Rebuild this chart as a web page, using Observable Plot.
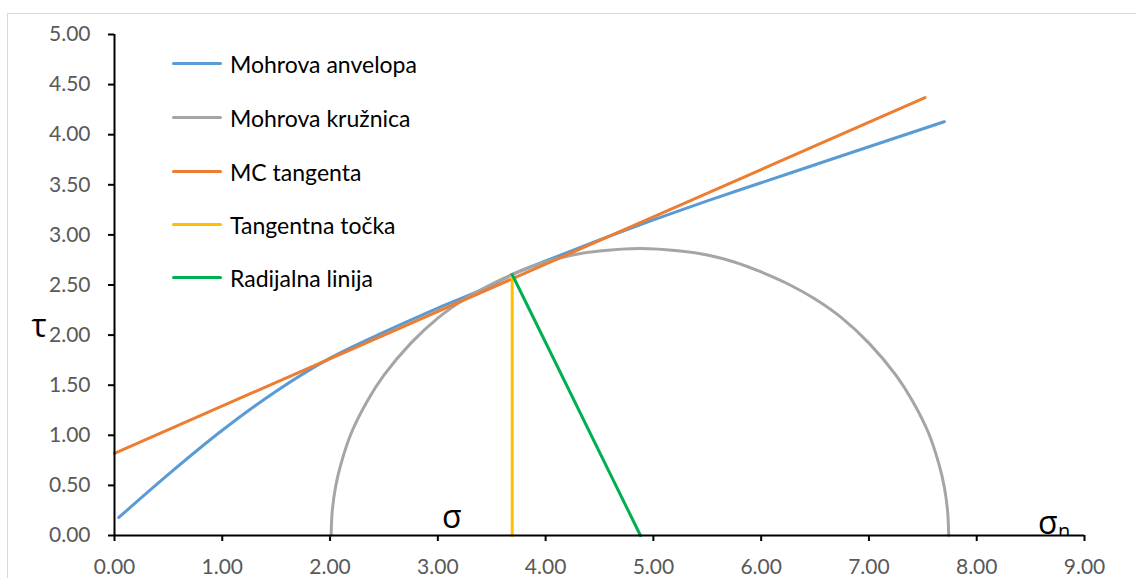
<!DOCTYPE html>
<html>
<head>
<meta charset="utf-8">
<script src="https://cdn.jsdelivr.net/npm/d3@7"></script>
<script src="https://cdn.jsdelivr.net/npm/@observablehq/plot@0.6"></script>
<style>
  html, body { margin: 0; padding: 0; background: #fff; overflow: hidden; }
  #wrap { position: relative; width: 1136px; height: 578px; }
  #border { position: absolute; left: 7px; top: 13px; width: 1300px; height: 700px; border: 1.5px solid #d9d9d9; pointer-events: none; }
  #legend { position: absolute; left: 172px; top: 0; font-family: Lato, sans-serif; font-size: 23px; color: #000; }
  .row { position: absolute; left: 0; white-space: nowrap; display: flex; align-items: center; height: 30px; }
  .sw { display: inline-block; width: 50px; height: 3px; border-radius: 2px; margin-right: 8px; }
</style>
</head>
<body>
<div id="wrap"><div id="border"></div></div>
<script>
// Ticks
const xTicks = [0, 1, 2, 3, 4, 5, 6, 7, 8, 9];
const yTicks = [0, 0.5, 1, 1.5, 2, 2.5, 3, 3.5, 4, 4.5, 5];

// Series names / colours
const seriesNames = ["Mohrova anvelopa", "Mohrova kružnica", "MC tangenta", "Tangentna točka", "Radijalna linija"];
const seriesColors = ["#5B9BD5", "#A5A5A5", "#ED7D31", "#FFC000", "#00B050"];

// Mohrova anvelopa
const envX = [0.04, 0.5, 1.0, 1.5, 2.0, 2.5, 3.0, 3.5, 3.69, 4.0, 4.5, 5.0, 5.5, 6.0, 6.5, 7.0, 7.7];
const envY = [0.18, 0.61, 1.05, 1.44, 1.77, 2.03, 2.27, 2.50, 2.605, 2.74, 2.95, 3.15, 3.34, 3.52, 3.70, 3.88, 4.13];

// Mohrova kružnica
const circX = [2.01, 2.02, 2.05, 2.10, 2.20, 2.35, 2.50, 2.75, 3.00, 3.25, 3.50, 3.75, 4.00, 4.25, 4.50, 4.875, 5.25, 5.50, 5.75, 6.00, 6.25, 6.50, 6.75, 7.00, 7.25, 7.40, 7.55, 7.65, 7.70, 7.73, 7.74];
const circY = [0, 0.24, 0.48, 0.71, 1.03, 1.35, 1.60, 1.92, 2.17, 2.36, 2.51, 2.63, 2.73, 2.80, 2.84, 2.865, 2.84, 2.80, 2.73, 2.63, 2.51, 2.36, 2.17, 1.92, 1.60, 1.35, 1.03, 0.71, 0.48, 0.24, 0];

// MC tangenta
const tanX = [0, 7.52];
const tanY = [0.82, 4.37];

// Tangentna točka
const ptX = [3.69, 3.69];
const ptY = [0, 2.605];

// Radijalna linija
const radX = [3.69, 4.88];
const radY = [2.605, 0];

// Annotations
const annoText = ["τ", "σ", "σ"];
const annoX = [-0.70, 3.13, 8.66];
const annoY = [2.08, 0.18, 0.12];
const subText = ["n"];
const subX = [8.81];
const subY = [0.035];

const zip = (xs, ys) => xs.map((x, i) => ({x, y: ys[i]}));
const series = [zip(envX, envY), zip(circX, circY), zip(tanX, tanY), zip(ptX, ptY), zip(radX, radY)];
const curves = ["monotone-x", "catmull-rom", "linear", "linear", "linear"];
const annos = annoText.map((t, i) => ({t, x: annoX[i], y: annoY[i]}));
const subs = subText.map((t, i) => ({t, x: subX[i], y: subY[i]}));

const chart = Plot.plot({
  width: 1136,
  height: 578,
  marginLeft: 114,
  marginRight: 52,
  marginTop: 34,
  marginBottom: 43,
  style: {background: "transparent", overflow: "visible", fontFamily: "Lato, sans-serif"},
  x: {domain: [0, 9]},
  y: {domain: [0, 5]},
  marks: [
    // tick marks (black)
    Plot.axisX({ticks: xTicks, tickSize: 6, tickFormat: () => "", color: "black", strokeWidth: 2, label: null}),
    Plot.axisY({ticks: yTicks, tickSize: 6, tickFormat: () => "", color: "black", strokeWidth: 2, label: null}),
    // tick labels (gray)
    Plot.axisX({ticks: xTicks, tickSize: 0, tickPadding: 24, tickFormat: d => d.toFixed(2), color: "#595959", fontSize: 21, label: null}),
    Plot.axisY({ticks: yTicks, tickSize: 0, tickPadding: 24, tickFormat: d => d.toFixed(2), color: "#595959", fontSize: 21, label: null}),
    // series
    ...series.map((s, i) => Plot.line(s, {x: "x", y: "y", stroke: seriesColors[i], strokeWidth: 3, curve: curves[i], strokeLinecap: "round", strokeLinejoin: "round"})),
    // axis lines
    Plot.ruleY([0], {stroke: "black", strokeWidth: 2}),
    Plot.ruleX([0], {stroke: "black", strokeWidth: 2}),
    // annotations
    Plot.text(annos, {x: "x", y: "y", text: "t", fontSize: 32, fill: "black", fontFamily: "Open Sans, sans-serif"}),
    Plot.text(subs, {x: "x", y: "y", text: "t", fontSize: 20, fill: "black", fontFamily: "Open Sans, sans-serif", clip: true})
  ]
});
const wrap = document.getElementById("wrap");
wrap.insertBefore(chart, wrap.firstChild);

// Legend
const legend = document.createElement("div");
legend.id = "legend";
const rowCenters = [63.7, 117.7, 171.7, 224.5, 277.5];
seriesNames.forEach((name, i) => {
  const row = document.createElement("div");
  row.className = "row";
  row.style.top = (rowCenters[i] - 15) + "px";
  const sw = document.createElement("span");
  sw.className = "sw";
  sw.style.background = seriesColors[i];
  const tx = document.createElement("span");
  tx.textContent = name;
  row.appendChild(sw);
  row.appendChild(tx);
  legend.appendChild(row);
});
wrap.appendChild(legend);
</script>
</body>
</html>
